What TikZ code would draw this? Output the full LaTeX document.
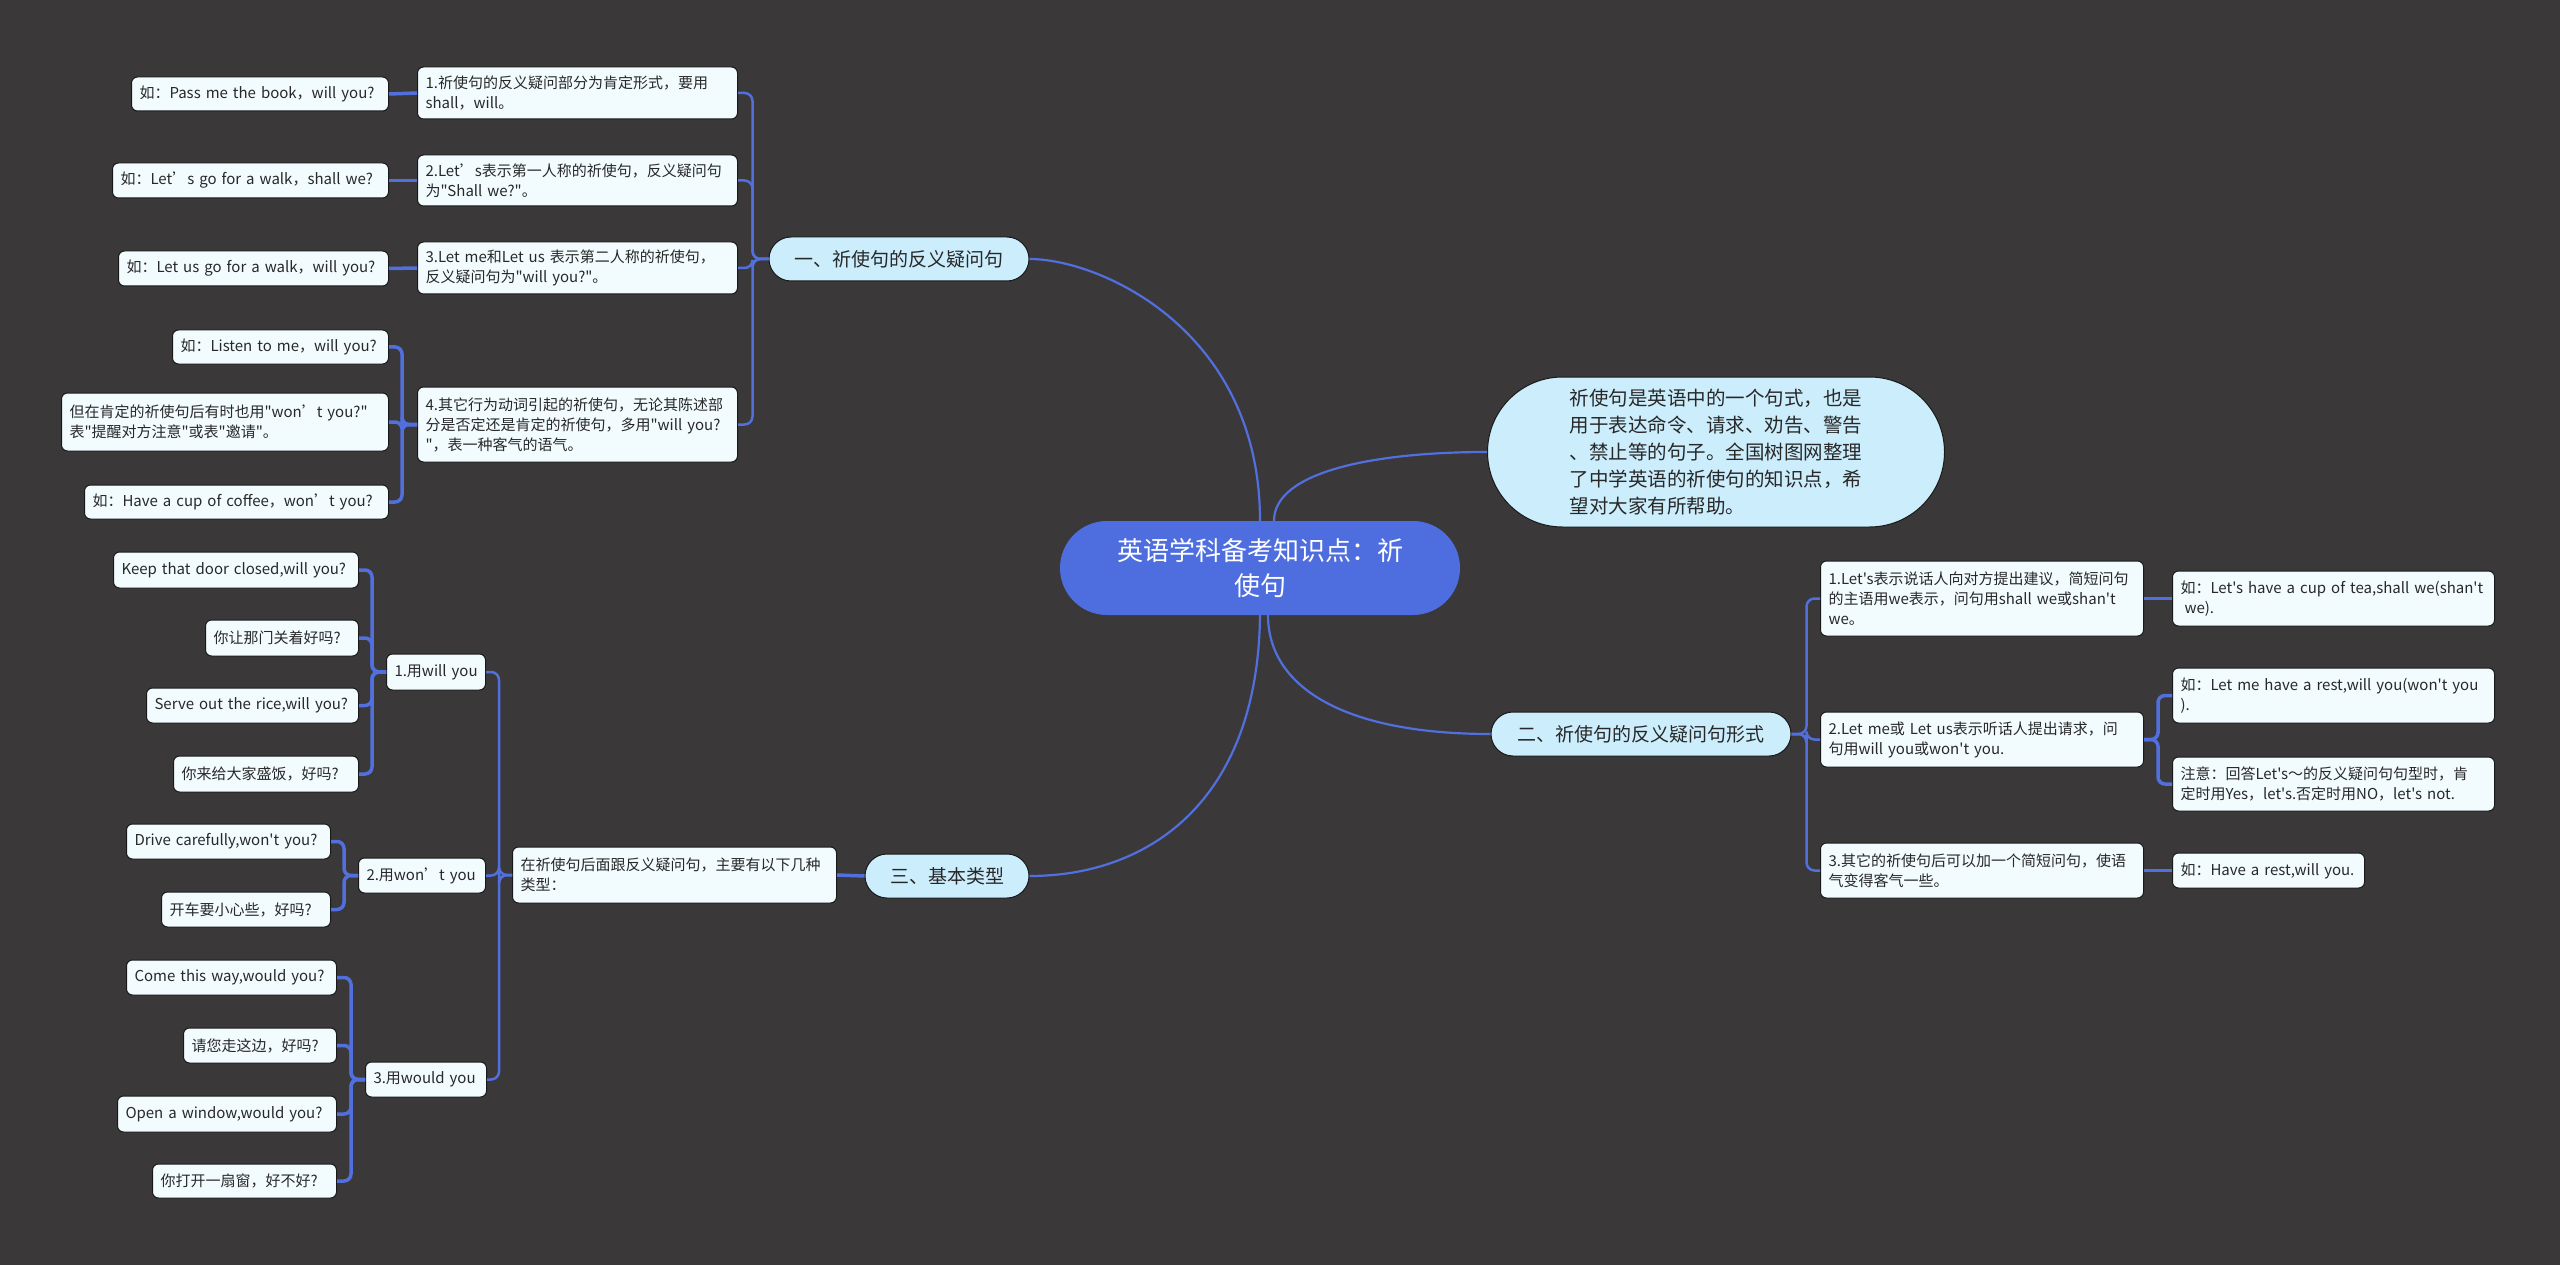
\documentclass[tikz,border=0pt]{standalone}
\usepackage{fontspec}
\newfontfamily\cjkf{Noto Sans CJK SC}
\usetikzlibrary{shapes.misc}
\definecolor{bgc}{RGB}{58,56,57}
\definecolor{linec}{RGB}{82,111,222}
\definecolor{rootc}{RGB}{78,110,224}
\definecolor{lightc}{RGB}{204,237,252}
\definecolor{leafc}{RGB}{242,252,255}
\definecolor{txt}{RGB}{40,40,40}
\definecolor{bord}{RGB}{25,25,25}
\begin{document}
\begin{tikzpicture}[x=1pt,y=-1pt,
 leaf/.style={draw=bord, line width=1pt, fill=leafc, rounded corners=6pt, inner xsep=8pt, inner ysep=2pt, align=left, text=txt, font=\cjkf\fontsize{15}{20}\selectfont},
 branch/.style={rounded rectangle, draw=bord, line width=1pt, fill=lightc, inner xsep=0pt, inner ysep=0pt, minimum height=44pt, text=txt, font=\cjkf\fontsize{19}{24}\selectfont},
 lk/.style={draw=linec, line width=3.5pt, rounded corners=7pt},
 bk/.style={draw=linec, line width=2.5pt, rounded corners=8pt},
 mk/.style={draw=linec, line width=2.2pt}]
\fill[bgc] (0,0) rectangle (2560,1265);
\useasboundingbox (0,0) rectangle (2560,1265);

% root and intro
\node[rounded rectangle, fill=rootc, minimum width=400pt, minimum height=94pt, inner xsep=0pt, text=white, align=center, font=\cjkf\fontsize{26}{35}\selectfont] (root) at (1260,568) {英语学科备考知识点：祈\\使句};
\node[rounded rectangle, draw=bord, line width=1pt, fill=lightc, minimum width=457pt, minimum height=150pt, inner xsep=0pt, align=left, text=txt, font=\cjkf\fontsize{19.5}{27}\selectfont] (intro) at (1716,452) {祈使句是英语中的一个句式，也是\\用于表达命令、请求、劝告、警告\\、禁止等的句子。全国树图网整理\\了中学英语的祈使句的知识点，希\\望对大家有所帮助。};

% branches
\node[branch, minimum width=260pt] (b1) at (899,259) {一、祈使句的反义疑问句};
\node[branch, minimum width=300pt] (b2) at (1641,734) {二、祈使句的反义疑问句形式};
\node[branch, minimum width=164pt] (b3) at (947,876) {三、基本类型};

% branch 1 children
\node[leaf, anchor=east, text width=304pt, minimum height=52pt] (c1) at (738,93) {1.祈使句的反义疑问部分为肯定形式，要用\\shall，will。};
\node[leaf, anchor=east, text width=304pt, minimum height=51pt] (c2) at (738,180.5) {2.Let’s表示第一人称的祈使句，反义疑问句\\为"Shall we?"。};
\node[leaf, anchor=east, text width=304pt, minimum height=52pt] (c3) at (738,268) {3.Let me和Let us 表示第二人称的祈使句，\\反义疑问句为"will you?"。};
\node[leaf, anchor=east, text width=304pt, minimum height=75pt] (c4) at (738,424.5) {4.其它行为动词引起的祈使句，无论其陈述部\\分是否定还是肯定的祈使句，多用"will you?\\"，表一种客气的语气。};
\node[leaf, anchor=east, text width=241pt, minimum height=34pt] (g1) at (389,94) {如：Pass me the book，will you?};
\node[leaf, anchor=east, text width=260pt, minimum height=35pt] (g2) at (389,180.5) {如：Let’s go for a walk，shall we?};
\node[leaf, anchor=east, text width=254pt, minimum height=35pt] (g3) at (389,268.5) {如：Let us go for a walk，will you?};
\node[leaf, anchor=east, text width=200pt, minimum height=34pt] (g4a) at (389,347) {如：Listen to me，will you?};
\node[leaf, anchor=east, text width=311pt, minimum height=58pt] (g4b) at (389,422) {但在肯定的祈使句后有时也用"won’t you?"\\表"提醒对方注意"或表"邀请"。};
\node[leaf, anchor=east, text width=288pt, minimum height=34pt] (g4c) at (389,502) {如：Have a cup of coffee，won’t you?};

% branch 2 children
\node[leaf, anchor=west, text width=307pt, minimum height=75pt] (d1) at (1820,598.5) {1.Let's表示说话人向对方提出建议，简短问句\\的主语用we表示，问句用shall we或shan't\\we。};
\node[leaf, anchor=west, text width=307pt, minimum height=55pt] (d2) at (1820,739.5) {2.Let me或 Let us表示听话人提出请求，问\\句用will you或won't you.};
\node[leaf, anchor=west, text width=307pt, minimum height=55pt] (d3) at (1820,870.5) {3.其它的祈使句后可以加一个简短问句，使语\\气变得客气一些。};
\node[leaf, anchor=west, text width=306pt, minimum height=55pt] (e1) at (2172,598.5) {如：Let's have a cup of tea,shall we(shan't\\\hspace*{4pt}we).};
\node[leaf, anchor=west, text width=306pt, minimum height=55pt] (e2a) at (2172,695.5) {如：Let me have a rest,will you(won't you\\).};
\node[leaf, anchor=west, text width=306pt, minimum height=54pt] (e2b) at (2172,784) {注意：回答Let's～的反义疑问句句型时，肯\\定时用Yes，let's.否定时用NO，let's not.};
\node[leaf, anchor=west, text width=176pt, minimum height=35pt] (e3) at (2172,870.5) {\mbox{如：Have a rest,will you.}};

% branch 3 children
\node[leaf, anchor=east, text width=308pt, minimum height=56pt] (f) at (837,875) {在祈使句后面跟反义疑问句，主要有以下几种\\类型：};
\node[leaf, anchor=east, text width=83pt, minimum height=36pt] (h1) at (486,672) {\mbox{1.用will you}};
\node[leaf, anchor=east, text width=111pt, minimum height=35pt] (h2) at (486,875.5) {\mbox{2.用won’t you}};
\node[leaf, anchor=east, text width=105pt, minimum height=35pt] (h3) at (487,1079.5) {\mbox{3.用would you}};
\node[leaf, anchor=east, text width=229pt, minimum height=36pt] (k11) at (359,570) {\mbox{Keep that door closed,will you?}};
\node[leaf, anchor=east, text width=137pt, minimum height=36pt] (k12) at (359,638) {你让那门关着好吗?};
\node[leaf, anchor=east, text width=196pt, minimum height=35pt] (k13) at (359,705.5) {\mbox{Serve out the rice,will you?}};
\node[leaf, anchor=east, text width=169pt, minimum height=36pt] (k14) at (359,774) {你来给大家盛饭，好吗?};
\node[leaf, anchor=east, text width=188pt, minimum height=35pt] (k21) at (331,841.5) {\mbox{Drive carefully,won't you?}};
\node[leaf, anchor=east, text width=153pt, minimum height=35pt] (k22) at (331,909.5) {开车要小心些，好吗?};
\node[leaf, anchor=east, text width=194pt, minimum height=35pt] (k31) at (337,977.5) {\mbox{Come this way,would you?}};
\node[leaf, anchor=east, text width=137pt, minimum height=35pt] (k32) at (337,1045.5) {请您走这边，好吗?};
\node[leaf, anchor=east, text width=203pt, minimum height=36pt] (k33) at (337,1114) {\mbox{Open a window,would you?}};
\node[leaf, anchor=east, text width=168pt, minimum height=34pt] (k34) at (337,1181) {你打开一扇窗，好不好?};

% main curves
\draw[mk] (root.north) .. controls (1260,330) and (1100,259) .. (b1.east);
\draw[mk] ([xshift=14pt]root.north) .. controls +(0,-50) and +(-110,0) .. (intro.west);
\draw[mk] ([xshift=8pt]root.south) .. controls +(0,70) and +(-150,0) .. (b2.west);
\draw[mk] (root.south) .. controls (1258,800) and (1150,876) .. (b3.east);

% branch 1 connectors
\foreach \c in {c1,c2,c3,c4} \draw[bk] (b1.west) -- ++(-16,0) |- (\c.east);
\draw[lk] (c1.west) -- (g1.east);
\draw[lk] (c2.west) -- (g2.east);
\draw[lk] (c3.west) -- (g3.east);
\foreach \g in {g4a,g4b,g4c} \draw[lk] (c4.west) -- ++(-15,0) |- (\g.east);

% branch 2 connectors
\foreach \d in {d1,d2,d3} \draw[bk] (b2.east) -- ++(15,0) |- (\d.west);
\draw[lk] (d1.east) -- (e1.west);
\foreach \e in {e2a,e2b} \draw[lk] (d2.east) -- ++(14,0) |- (\e.west);
\draw[lk] (d3.east) -- (e3.west);

% branch 3 connectors
\draw[lk] (b3.west) -- (f.east);
\foreach \h in {h1,h2,h3} \draw[bk] (f.west) -- ++(-13,0) |- (\h.east);
\foreach \k in {k11,k12,k13,k14} \draw[lk] (h1.west) -- ++(-14,0) |- (\k.east);
\foreach \k in {k21,k22} \draw[lk] (h2.west) -- ++(-14,0) |- (\k.east);
\foreach \k in {k31,k32,k33,k34} \draw[lk] (h3.west) -- ++(-14,0) |- (\k.east);
\end{tikzpicture}
\end{document}
